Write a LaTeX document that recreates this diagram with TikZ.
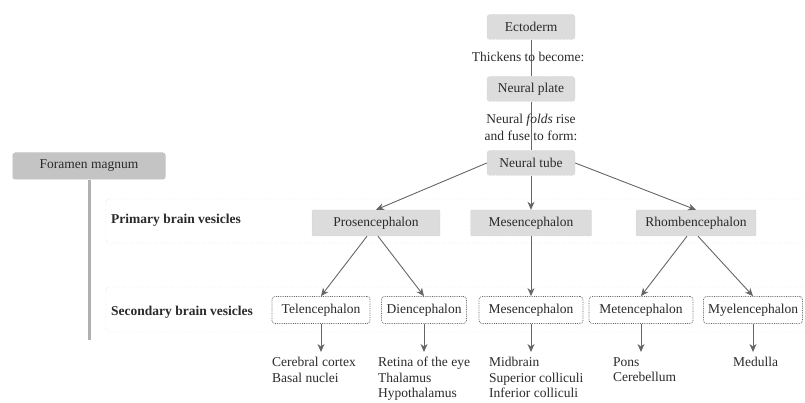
\documentclass[tikz,border=0pt]{standalone}
\usepackage{fontspec}
\setmainfont{Liberation Serif}
\usetikzlibrary{arrows.meta}
\definecolor{linegray}{HTML}{666666}
\definecolor{boxgray}{HTML}{DCDCDC}
\definecolor{darkbox}{HTML}{C4C4C4}
\definecolor{textgray}{HTML}{2A2A2A}
\definecolor{bandgray}{HTML}{B0B0BC}
\newcommand{\diagfont}{\fontsize{13.5}{17}\selectfont}
\tikzset{
	stage/.style={fill=boxgray, draw=boxgray!85!black, densely dotted, rounded corners=3pt, minimum height=25pt, inner sep=2pt, text=textgray},
	vesicle/.style={fill=white, draw=linegray, line width=0.8pt, densely dotted, rounded corners=3pt, minimum height=27pt, inner sep=2pt, text=textgray},
	rowlabel/.style={anchor=west, inner sep=0pt, font=\diagfont\bfseries, text=textgray},
	note/.style={inner sep=0pt, text=textgray, align=center},
	region/.style={anchor=north west, inner sep=0pt, text=textgray, align=left, font=\fontsize{13.5}{15.5}\selectfont},
	band/.style={draw=bandgray, dotted, rounded corners=3pt},
	conn/.style={draw=linegray, line width=0.9pt},
	arr/.style={conn, -{Stealth[length=8pt, width=7pt, inset=2.5pt]}}
}
\begin{document}
\begin{tikzpicture}[x=1pt, y=-1pt, font=\diagfont]
	\useasboundingbox (0,0) rectangle (805,403);
	\draw[band] (106,199) rectangle (830,243);
	\draw[band] (106,287) rectangle (830,332);

	\node[stage, minimum width=88pt] (ecto) at (531,27) {Ectoderm};
	\node[stage, minimum width=88pt] (plate) at (531,89) {Neural plate};
	\node[stage, minimum width=88pt] (tube) at (531,163) {Neural tube};
	\draw[conn] (ecto.south) -- (plate.north);
	\draw[conn] (plate.south) -- (tube.north);
	\node[note] (thickens) at (528,57) {Thickens to become:};
	\node[note] (folds) at (531,127) {Neural \textit{folds} rise\\and fuse to form:};

	\node[stage, fill=darkbox, minimum width=153pt, minimum height=27pt] (foramen) at (89,166) {Foramen magnum};
	\coordinate (spine) at (89,340);
	\draw[draw=boxgray!80!black, line width=3pt] (foramen.south) -- (spine);

	\node[rowlabel] (primary) at (111,220) {Primary brain vesicles};
	\node[stage, rounded corners=1pt, minimum width=128pt, minimum height=26pt] (pros) at (376,223) {Prosencephalon};
	\node[stage, rounded corners=1pt, minimum width=121pt, minimum height=26pt] (mesp) at (531,223) {Mesencephalon};
	\node[stage, rounded corners=1pt, minimum width=120pt, minimum height=26pt] (rhomb) at (696,223) {Rhombencephalon};
	\draw[arr] (tube.west) -- (pros.north);
	\draw[arr] (tube.south) -- (mesp.north);
	\draw[arr] (tube.east) -- (rhomb.north);

	\node[rowlabel] (secondary) at (111,312) {Secondary brain vesicles};
	\node[vesicle, minimum width=98pt] (tel) at (321,310) {Telencephalon};
	\node[vesicle, minimum width=85pt] (dien) at (424,310) {Diencephalon};
	\node[vesicle, minimum width=104pt] (mess) at (531,310) {Mesencephalon};
	\node[vesicle, minimum width=104pt] (met) at (641,310) {Metencephalon};
	\node[vesicle, minimum width=99pt] (myel) at (753,310) {Myelencephalon};
	\draw[arr] ([xshift=-9pt]pros.south) -- (tel.north);
	\draw[arr] ([xshift=2pt]pros.south) -- (dien.north);
	\draw[arr] (mesp.south) -- (mess.north);
	\draw[arr] ([xshift=-9pt]rhomb.south) -- (met.north);
	\draw[arr] ([xshift=2pt]rhomb.south) -- (myel.north);

	\coordinate (telout) at (321,352);
	\coordinate (dienout) at (424,352);
	\coordinate (messout) at (531,352);
	\coordinate (metout) at (641,352);
	\coordinate (myelout) at (753,352);
	\draw[arr] (tel.south) -- (telout);
	\draw[arr] (dien.south) -- (dienout);
	\draw[arr] (mess.south) -- (messout);
	\draw[arr] (met.south) -- (metout);
	\draw[arr] (myel.south) -- (myelout);
	\node[region] (telparts) at (272,357) {Cerebral cortex\\Basal nuclei};
	\node[region] (dienparts) at (378,357) {Retina of the eye\\Thalamus\\Hypothalamus};
	\node[region] (messparts) at (489,357) {Midbrain\\Superior colliculi\\Inferior colliculi};
	\node[region] (metparts) at (613,357) {Pons\\Cerebellum};
	\node[region] (myelparts) at (733,357) {Medulla};
\end{tikzpicture}
\end{document}
